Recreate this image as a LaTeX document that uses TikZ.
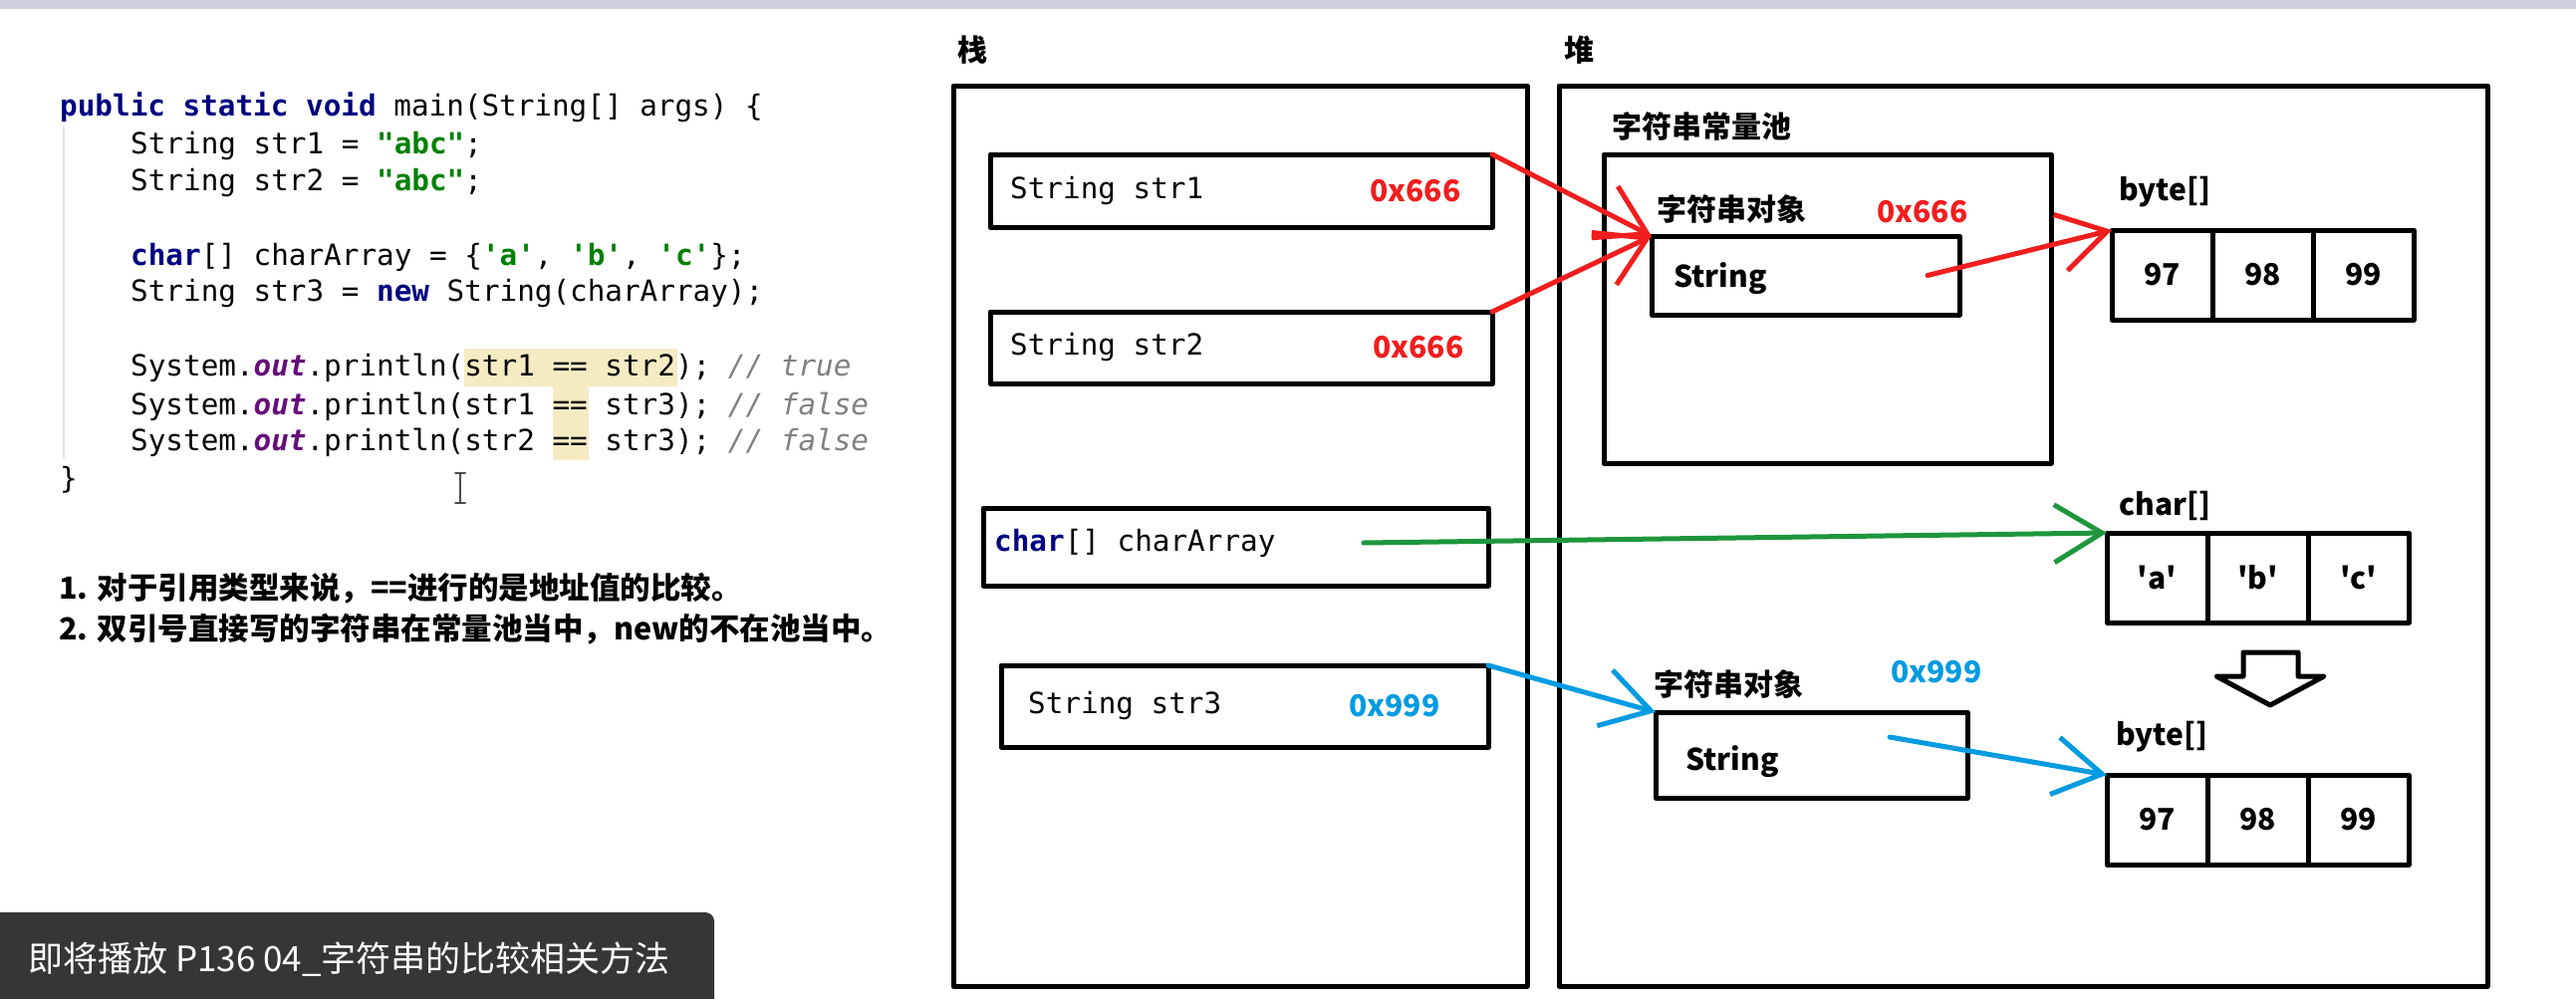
\documentclass[tikz,border=0pt]{standalone}
\usepackage{fontspec}
\setmonofont{DejaVu Sans Mono}
\newfontfamily\cjk{Noto Sans CJK SC}
\usetikzlibrary{arrows.meta}
\definecolor{kwblue}{RGB}{0,0,128}
\definecolor{strgreen}{RGB}{0,128,0}
\definecolor{fldpurple}{RGB}{102,14,122}
\definecolor{cmtgray}{RGB}{128,128,128}
\definecolor{hilite}{RGB}{245,235,195}
\definecolor{addrred}{RGB}{240,30,30}
\definecolor{addrblue}{RGB}{0,155,225}
\definecolor{arrgreen}{RGB}{30,150,60}
\definecolor{topbar}{RGB}{205,208,220}
\definecolor{tipgray}{RGB}{54,54,54}
\newcommand\kw[1]{\textcolor{kwblue}{\bfseries #1}}
\newcommand\jstr[1]{\textcolor{strgreen}{\bfseries #1}}
\newcommand\fld[1]{\textcolor{fldpurple}{\bfseries\itshape #1}}
\newcommand\cmt[1]{\textcolor{cmtgray}{\itshape #1}}
\begin{document}
\begin{tikzpicture}[x=1pt,y=-1pt,line join=round,line cap=round,
	>={Straight Barb[length=48pt,width=58pt]},
	box/.style={draw,line width=5pt,inner sep=0pt,outer sep=0pt,anchor=north west},
	cell/.style={box,minimum width=101pt,minimum height=90pt,font=\cjk\bfseries\fontsize{30}{36}\selectfont},
	codeline/.style={inner sep=0pt,anchor=base west,font=\ttfamily\fontsize{29.3}{35}\selectfont},
	lbl/.style={inner sep=0pt,anchor=west,font=\cjk\bfseries\fontsize{30}{36}\selectfont},
	addr/.style={inner sep=0pt,font=\cjk\bfseries\fontsize{30}{36}\selectfont},
	note/.style={inner sep=0pt,anchor=base west,font=\cjk\bfseries\fontsize{30.5}{37}\selectfont},
	link/.style={->,line width=5pt}]
	\useasboundingbox (0,0) rectangle (2586,1002);
	\clip (0,0) rectangle (2586,1002);
	\fill[topbar] (0,0) rectangle (2586,9);
	\fill[hilite] (466,350) rectangle (680,388) (555,388) rectangle (591,462);
	\draw[black!10,line width=1.5pt] (64,127) -- (64,460);
	\node[codeline] (l1) at (60,116) {\kw{public static void} main(String[] args) \{};
	\node[codeline] (l2) at (131,154) {String str1 = \jstr{"abc"};};
	\node[codeline] (l3) at (131,191) {String str2 = \jstr{"abc"};};
	\node[codeline] (l4) at (131,266) {\kw{char}[] charArray = \{\jstr{'a'}, \jstr{'b'}, \jstr{'c'}\};};
	\node[codeline] (l5) at (131,302) {String str3 = \kw{new} String(charArray);};
	\node[codeline] (l6) at (131,377) {System.\fld{out}.println(str1 == str2); \cmt{// true}};
	\node[codeline] (l7) at (131,416) {System.\fld{out}.println(str1 == str3); \cmt{// false}};
	\node[codeline] (l8) at (131,452) {System.\fld{out}.println(str2 == str3); \cmt{// false}};
	\node[codeline] (l9) at (60,490) {\}};
	\draw[black!70,line width=2pt] (457,475) -- (467,475) (462,475) -- (462,505) (457,505) -- (467,505);
	\node[note] (n1) at (59,601) {1. 对于引用类型来说，==进行的是地址值的比较。};
	\node[note] (n2) at (59,642) {2. 双引号直接写的字符串在常量池当中，new的不在池当中。};

	\node[lbl,anchor=center] (zhan) at (976,50) {栈};
	\node[lbl,anchor=center] (dui) at (1585,50) {堆};
	\node[box,minimum width=576pt,minimum height=904pt] (stack) at (957,86) {};
	\node[box,minimum width=932pt,minimum height=904pt] (heap) at (1565,86) {};

	\node[box,minimum width=504pt,minimum height=73pt] (s1) at (994,155) {};
	\node[codeline,anchor=west] (s1t) at ([xshift=20pt]s1.west) {String str1};
	\node[addr,text=addrred] (s1v) at ([xshift=-77pt]s1.east) {0x666};
	\node[box,minimum width=504pt,minimum height=72pt] (s2) at (994,313) {};
	\node[codeline,anchor=west] (s2t) at ([xshift=20pt]s2.west) {String str2};
	\node[addr,text=addrred] (s2v) at ([xshift=-74pt]s2.east) {0x666};
	\node[box,minimum width=507pt,minimum height=78pt] (ca) at (987,510) {};
	\node[codeline,anchor=west] (cat) at ([xshift=11pt,yshift=4pt]ca.west) {\kw{char}[] charArray};
	\node[box,minimum width=489pt,minimum height=82pt] (s3) at (1005,668) {};
	\node[codeline,anchor=west] (s3t) at ([xshift=27pt]s3.west) {String str3};
	\node[addr,text=addrblue] (s3v) at ([xshift=-94pt]s3.east) {0x999};

	\node[lbl] (poolt) at (1618,127) {字符串常量池};
	\node[box,minimum width=449pt,minimum height=310pt] (pool) at (1610,155) {};
	\node[lbl] (o1t) at (1663,210) {字符串对象};
	\node[addr,text=addrred] (o1v) at (1930,213) {0x666};
	\node[box,minimum width=309pt,minimum height=79pt] (obj1) at (1658,237) {};
	\node[lbl] (o1s) at (1680,280) {String};

	\node[lbl] (bat) at (2127,193) {byte[]};
	\node[lbl] (cht) at (2127,508) {char[]};
	\node[lbl] (bbt) at (2124,740) {byte[]};
	\foreach \a/\x/\y/\p/\q/\r in {bya/2120/231/97/98/99, chr/2115/535/'a'/'b'/'c', byb/2115/778/97/98/99}
		\foreach \i/\v in {0/\p,1/\q,2/\r}
			\node[cell] (\a\i) at (\x+101*\i,\y) {\v};
	\draw[line width=5pt,fill=white] (2252,655) -- (2307,655) -- (2307,679) -- (2333,679) -- (2279,708) -- (2225,679) -- (2252,679) -- cycle;

	\node[lbl] (o2t) at (1660,687) {字符串对象};
	\node[addr,text=addrblue] (o2v) at (1944,675) {0x999};
	\node[box,minimum width=313pt,minimum height=86pt] (obj2) at (1662,715) {};
	\node[lbl] (o2s) at (1692,765) {String};

	\draw[link,addrred] (s1.north east) -- (obj1.north west);
	\draw[link,addrred] (s2.north east) -- (obj1.north west);
	\draw[link,addrred] ([xshift=-32pt]obj1.east) -- (bya0.north west);
	\draw[link,arrgreen] ([xshift=-125pt,yshift=4pt]ca.east) -- (chr0.north west);
	\draw[link,addrblue] (s3.north east) -- (obj2.north west);
	\draw[link,addrblue] ([xshift=-78pt,yshift=18pt]obj2.east) -- (byb0.north west);

	\fill[tipgray,rounded corners=9pt] (-20,916) rectangle (717,1030);
	\node[inner sep=0pt,anchor=west,text=white,font=\cjk\fontsize{35}{40}\selectfont] (tipt) at (28,963) {即将播放 P136 04\_字符串的比较相关方法};
\end{tikzpicture}
\end{document}
